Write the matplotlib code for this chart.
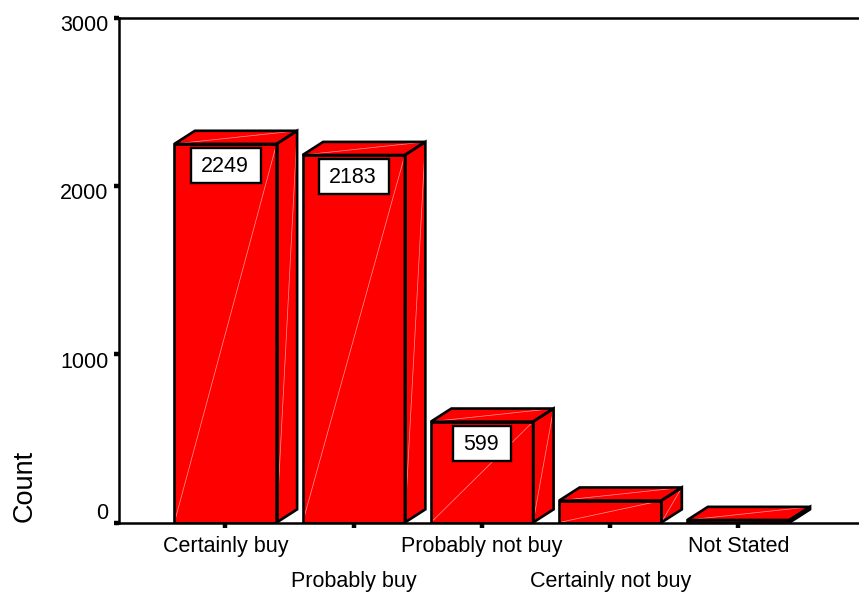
#!/usr/bin/env python3

import matplotlib.pyplot as plt
from matplotlib.patches import Polygon
from matplotlib.path import Path
from matplotlib.transforms import ScaledTranslation

plt.rcParams['font.family']=['Liberation Sans','DejaVu Sans']

categories=['Certainly buy','Probably buy','Probably not buy','Certainly not buy','Not Stated']
counts=[2249,2183,599,130,15]
labelled=[True,True,True,False,False]
yticks=[0,1000,2000,3000]

barWidth=0.797
depthX=0.16
depthY=78
red='#ff0000'
streak='#ff9a9a'

def drawFace(ax,pts):
  ax.add_patch(Polygon(pts,closed=True,facecolor=red,edgecolor='none',zorder=3))
  # faint diagonal seam left by the renderer
  ax.plot([pts[0][0],pts[2][0]],[pts[0][1],pts[2][1]],color=streak,lw=0.5,zorder=3.2,solid_capstyle='butt')
  ax.add_patch(Polygon(pts,closed=True,fill=False,edgecolor='k',lw=1.9,joinstyle='miter',zorder=3.4))

def drawBar(ax,x,h):
  l=x-barWidth/2
  r=x+barWidth/2
  drawFace(ax,[(r,0),(r+depthX,depthY),(r+depthX,h+depthY),(r,h)])
  drawFace(ax,[(l,h),(r,h),(r+depthX,h+depthY),(l+depthX,h+depthY)])
  drawFace(ax,[(l,0),(r,0),(r,h),(l,h)])

def labelBox(x0,y0,w,h,mutation_size):
  # wider padding left/right than top/bottom, text sits a little low
  l,r=x0-10,x0+w+12
  b,t=y0-5.5,y0+h+8.5
  return Path([(l,b),(r,b),(r,t),(l,t),(l,b)],closed=True)

fig=plt.figure(figsize=(8.59,5.93),dpi=100)
W,H=859,593
x0,y0,y1=119.5,522.5,17.5
ax=fig.add_axes([x0/W,1-y0/H,(W-x0)/W,(y0-y1)/H])
ax.set_xlim(-0.8265,4.94)
ax.set_ylim(0,3000)

for i,c in enumerate(counts):
  drawBar(ax,i,c)
  if labelled[i]:
    ax.annotate(str(c),xy=(i,c),xytext=(-0.5,-16.5),textcoords='offset points',
      ha='center',va='center',fontsize=15.5,zorder=5,
      bbox=dict(boxstyle=labelBox,facecolor='white',edgecolor='k',lw=1.7))

for side in ['top','left','bottom']:
  ax.spines[side].set_linewidth(1.8)
  ax.spines[side].set_zorder(4)
ax.spines['right'].set_visible(False)

ax.set_xticks(range(len(categories)))
ax.set_xticklabels(categories,fontsize=15.5)
ax.set_yticks(yticks)
ax.set_yticklabels([str(t) for t in yticks],fontsize=15.5)
ax.tick_params(axis='both',length=3.5,width=3.2,color='k')
ax.tick_params(axis='y',pad=4.5)

# every second category label drops to a lower row
for i,tick in enumerate(ax.xaxis.get_major_ticks()):
  tick.set_pad(6.5 if i%2==0 else 31.5)

# y labels sit below their ticks, except 0 which is lifted off the baseline
for t,lab in zip(yticks,ax.get_yticklabels()):
  dy=8.5/72 if t==0 else -4/72
  lab.set_transform(lab.get_transform()+ScaledTranslation(0,dy,fig.dpi_scale_trans))

ax.set_ylabel('Count',fontsize=19.5,loc='bottom',labelpad=0)
ax.yaxis.set_label_coords((38-x0)/(W-x0),0,transform=ax.transAxes)

fig.savefig('out.png',dpi=100)
